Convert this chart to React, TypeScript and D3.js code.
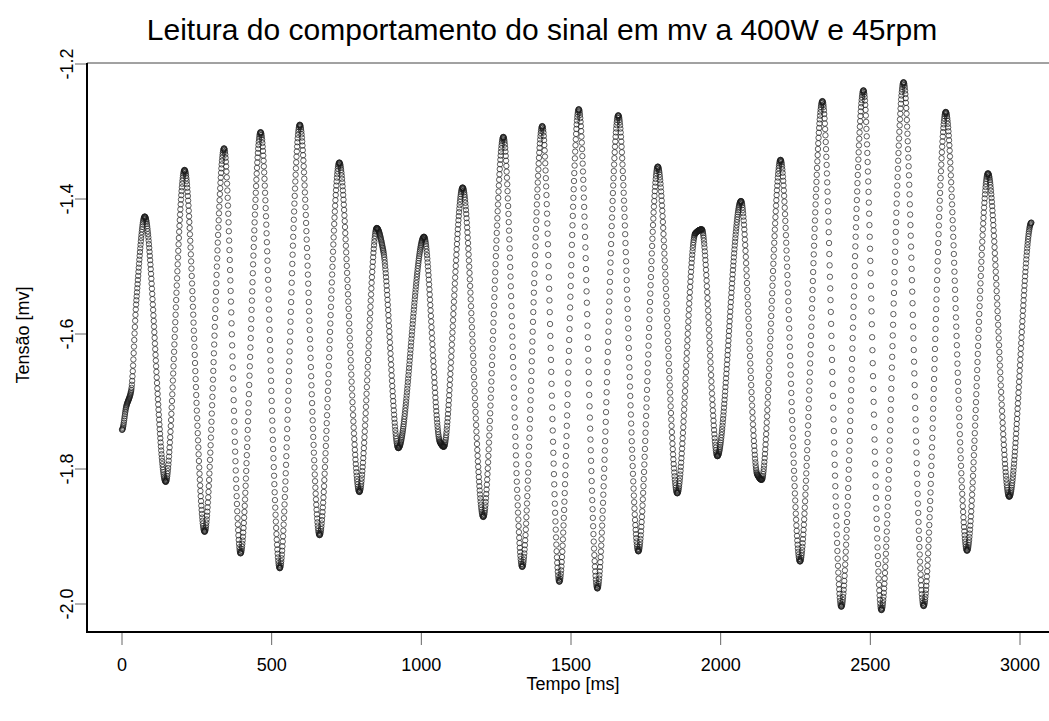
import React from "react";
import * as d3 from "d3";

// Signal knots: time [ms] and voltage [mV] at extrema / shape points
const knotTimes = [
  0, 14, 31, 48, 76, 146, 209, 276, 341, 396, 463, 527, 594, 660, 726, 793, 851, 873, 923,
  1009, 1062, 1075, 1138, 1207, 1274, 1337, 1404, 1461, 1526, 1588, 1658, 1725, 1790, 1855,
  1915, 1937, 1989, 2068, 2122, 2137, 2200, 2265, 2340, 2403, 2477, 2537, 2611, 2678, 2752,
  2823, 2893, 2964, 3038,
];
const knotValues = [
  -1.742, -1.708, -1.683, -1.55, -1.426, -1.819, -1.357, -1.893, -1.325, -1.925, -1.301,
  -1.947, -1.29, -1.898, -1.346, -1.834, -1.443, -1.477, -1.769, -1.456, -1.76, -1.767,
  -1.383, -1.871, -1.308, -1.945, -1.292, -1.967, -1.267, -1.977, -1.276, -1.922, -1.352,
  -1.836, -1.451, -1.445, -1.781, -1.403, -1.808, -1.816, -1.342, -1.937, -1.255, -2.004,
  -1.239, -2.009, -1.227, -2.003, -1.271, -1.921, -1.362, -1.841, -1.435,
];
const sampleStepMs = 1;
const xTicks = [0, 500, 1000, 1500, 2000, 2500, 3000];
const yTicks = [-2.0, -1.8, -1.6, -1.4, -1.2];
const title = "Leitura do comportamento do sinal em mv a 400W e 45rpm";
const xLabel = "Tempo [ms]";
const yLabel = "Tensão [mv]";

function buildSignal(ts: number[], vs: number[], step: number) {
  const n = ts.length;
  const h: number[] = [];
  const d: number[] = [];
  for (let i = 0; i < n - 1; i++) {
    h.push(ts[i + 1] - ts[i]);
    d.push((vs[i + 1] - vs[i]) / h[i]);
  }
  const m: number[] = new Array(n).fill(0);
  for (let i = 1; i < n - 1; i++) {
    if (d[i - 1] * d[i] > 0) {
      const h0 = h[i - 1], h1 = h[i];
      m[i] = (3 * (h0 + h1)) / ((2 * h1 + h0) / d[i - 1] + (h1 + 2 * h0) / d[i]);
    }
  }
  const out: { t: number; v: number }[] = [];
  let seg = 0;
  for (const t of d3.range(ts[0], ts[n - 1] + 0.001, step)) {
    while (seg < n - 2 && t > ts[seg + 1]) seg++;
    const hh = h[seg];
    const s = (t - ts[seg]) / hh;
    const s2 = s * s, s3 = s2 * s;
    const v =
      (2 * s3 - 3 * s2 + 1) * vs[seg] +
      (s3 - 2 * s2 + s) * hh * m[seg] +
      (-2 * s3 + 3 * s2) * vs[seg + 1] +
      (s3 - s2) * hh * m[seg + 1];
    out.push({ t, v });
  }
  return out;
}

export default function App() {
  const W = 1049, H = 721;
  const x = d3.scaleLinear().domain([0, 3000]).range([122, 1020]);
  const y = d3.scaleLinear().domain([-2.0, -1.2]).range([604, 64]);
  const left = 87, right = 1062, top = 63, bottom = 632;
  const data = buildSignal(knotTimes, knotValues, sampleStepMs);
  const font = "'Liberation Sans', Arial, Helvetica, sans-serif";

  return (
    <svg
      width={W}
      height={H}
      style={{ position: "absolute", left: 0, top: 0, background: "#fff" }}
      fontFamily={font}
    >
      <rect x={0} y={0} width={W} height={H} fill="#fff" />
      <text x={542} y={40} textAnchor="middle" fontSize={30} fill="#000">
        {title}
      </text>
      <g>
        {data.map((p, i) => (
          <circle
            key={i}
            cx={x(p.t)}
            cy={y(p.v)}
            r={2.7}
            fill="none"
            stroke="#1a1a1a"
            strokeWidth={0.7}
          />
        ))}
      </g>
      <line x1={left} x2={right} y1={top} y2={top} stroke="#444" strokeWidth={1} />
      <line x1={left} x2={left} y1={top} y2={bottom + 1} stroke="#000" strokeWidth={2} />
      <line x1={left} x2={right} y1={bottom} y2={bottom} stroke="#000" strokeWidth={2} />
      {xTicks.map((t) => (
        <g key={t}>
          <line x1={x(t)} x2={x(t)} y1={bottom + 1} y2={645} stroke="#666" strokeWidth={1} />
          <text x={x(t)} y={671} textAnchor="middle" fontSize={18} fill="#000">
            {t}
          </text>
        </g>
      ))}
      {yTicks.map((v) => (
        <g key={v}>
          <line x1={75} x2={left - 1} y1={y(v)} y2={y(v)} stroke="#666" strokeWidth={1} />
          <text
            transform={`translate(73,${y(v)}) rotate(-90)`}
            textAnchor="middle"
            fontSize={18}
            fill="#000"
          >
            {v.toFixed(1)}
          </text>
        </g>
      ))}
      <text x={573} y={690} textAnchor="middle" fontSize={18} fill="#000">
        {xLabel}
      </text>
      <text
        transform={`translate(29,335) rotate(-90)`}
        textAnchor="middle"
        fontSize={18}
        fill="#000"
      >
        {yLabel}
      </text>
    </svg>
  );
}
